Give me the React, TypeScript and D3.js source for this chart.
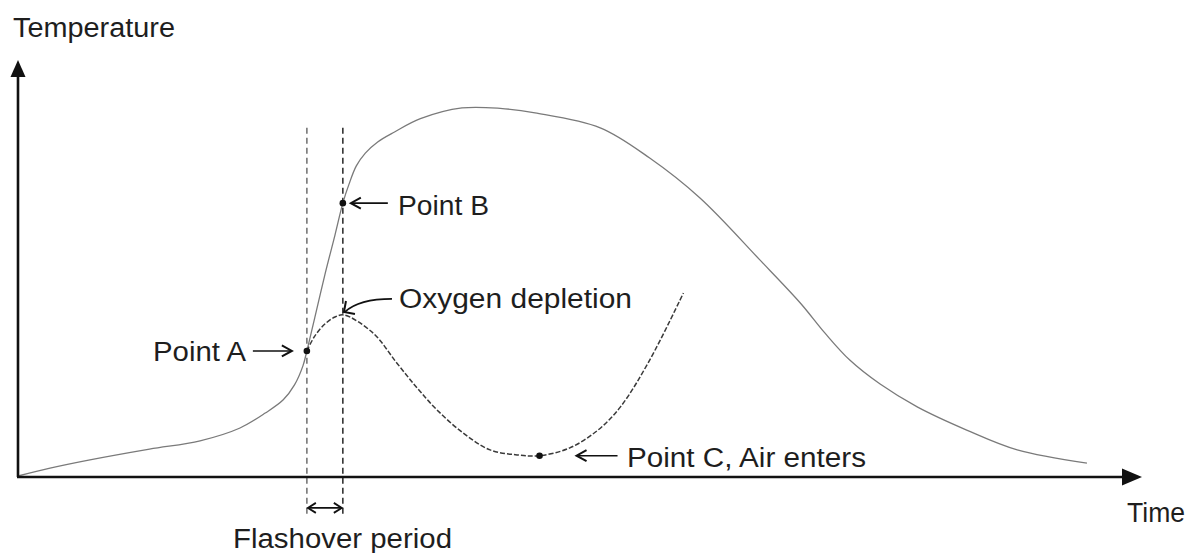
import React from "react";
import * as d3 from "d3";

// Time (0-100, arbitrary units) and temperature (0-100, arbitrary units)
const mainTime = [0, 2.85, 6.4, 11.7, 16.2, 19.75, 22.0, 23.6, 24.6, 25.35, 25.7, 26.4, 27.3, 28.2, 28.9, 29.45, 30.1, 30.9, 32.0, 33.5, 35.8, 39.5, 42.9, 46.0, 51.8, 56.2, 60.7, 66.0, 69.6, 71.8, 74.0, 76.7, 80.0, 84.4, 88.9, 95.1];
const mainTemp = [0, 1.9, 3.9, 6.5, 8.5, 11.6, 15.2, 18.4, 22.0, 26.6, 30.2, 38.2, 48.6, 58.2, 65.9, 70.5, 74.9, 78.0, 80.7, 83.1, 86.3, 88.9, 88.8, 87.7, 84.1, 76.8, 67.1, 52.2, 41.8, 34.5, 28.0, 22.2, 16.7, 11.1, 6.3, 3.1];

const oxyTime = [25.7, 26.4, 27.3, 28.2, 29.0, 31.6, 33.7, 35.5, 37.3, 39.6, 42.0, 44.4, 46.4, 49.1, 51.6, 53.6, 56.2, 59.2];
const oxyTemp = [30.2, 33.8, 36.7, 38.4, 38.9, 34.5, 27.3, 21.3, 15.9, 10.4, 6.3, 5.1, 4.9, 6.8, 11.1, 16.7, 28.0, 44.2];

const pointNames = ["Point A", "Point B", "Point C"];
const pointTime = [25.7, 28.9, 46.4];
const pointTemp = [30.2, 65.9, 4.9];

const flashoverStart = 25.7;
const flashoverEnd = 28.9;
const guideTop = 84.1;
const guideBottom = -9.4;
const flashoverArrowLevel = -7.7;
const oxygenPeakTime = 29.0;
const oxygenPeakTemp = 38.9;

const W = 1199;
const H = 553;

const x = d3.scaleLinear().domain([0, 100]).range([18, 1142]);
const y = d3.scaleLinear().domain([0, 100]).range([476, 62]);

const FONT = "'Liberation Sans', Arial, Helvetica, sans-serif";
const TXT = "#1e1e1e";

function Chevron({ tipX, tipY, dir }: { tipX: number; tipY: number; dir: "left" | "right" }) {
  const s = dir === "left" ? 1 : -1;
  return (
    <path
      d={`M${tipX + s * 10},${tipY - 5.5} L${tipX},${tipY} L${tipX + s * 10},${tipY + 5.5}`}
      fill="none"
      stroke="#111"
      strokeWidth={2}
      strokeLinejoin="miter"
    />
  );
}

export default function App() {
  const mainData = mainTime.map((t, i) => [t, mainTemp[i]] as [number, number]);
  const oxyData = oxyTime.map((t, i) => [t, oxyTemp[i]] as [number, number]);
  const line = d3
    .line<[number, number]>()
    .x((d) => x(d[0]))
    .y((d) => y(d[1]))
    .curve(d3.curveCatmullRom.alpha(0.5));

  const x0 = x(0);
  const y0 = y(0);
  const yTop = y(100);
  const xEnd = x(100);

  const A = { x: x(pointTime[0]), y: y(pointTemp[0]) };
  const B = { x: x(pointTime[1]), y: y(pointTemp[1]) };
  const C = { x: x(pointTime[2]), y: y(pointTemp[2]) };
  const peak = { x: x(oxygenPeakTime), y: y(oxygenPeakTemp) };
  const fx1 = x(flashoverStart);
  const fx2 = x(flashoverEnd);
  const fy = y(flashoverArrowLevel);

  return (
    <svg
      width={W}
      height={H}
      viewBox={`0 0 ${W} ${H}`}
      style={{ position: "absolute", left: 0, top: 0, background: "#fff" }}
    >
      {/* guides */}
      <line x1={fx1} x2={fx1} y1={y(guideTop)} y2={y(guideBottom)} stroke="#777" strokeWidth={1.6} strokeDasharray="6,4" />
      <line x1={fx2} x2={fx2} y1={y(guideTop)} y2={y(guideBottom)} stroke="#333" strokeWidth={1.6} strokeDasharray="6,4" />

      {/* curves */}
      <path d={line(mainData) || ""} fill="none" stroke="#7a7a7a" strokeWidth={1.3} />
      <path d={line(oxyData) || ""} fill="none" stroke="#3a3a3a" strokeWidth={1.5} strokeDasharray="5,2" />

      {/* axes */}
      <line x1={x0} x2={x0} y1={y0 + 1} y2={yTop + 14} stroke="#111" strokeWidth={2.6} />
      <path d={`M${x0},${yTop - 2} L${x0 - 7.5},${yTop + 15} L${x0 + 7.5},${yTop + 15} Z`} fill="#111" />
      <line x1={x0 - 1} x2={xEnd - 16} y1={y0 + 1} y2={y0 + 1} stroke="#111" strokeWidth={2.6} />
      <path d={`M${xEnd},${y0 + 1} L${xEnd - 20},${y0 - 7.5} L${xEnd - 20},${y0 + 9.5} Z`} fill="#111" />

      {/* points */}
      {[A, B, C].map((p, i) => (
        <circle key={pointNames[i]} cx={p.x} cy={p.y} r={3.3} fill="#111" />
      ))}

      {/* annotation arrows */}
      <line x1={A.x - 54} x2={A.x - 16} y1={A.y} y2={A.y} stroke="#111" strokeWidth={1.6} />
      <Chevron tipX={A.x - 15} tipY={A.y} dir="right" />

      <line x1={B.x + 9} x2={B.x + 45} y1={B.y} y2={B.y} stroke="#111" strokeWidth={1.6} />
      <Chevron tipX={B.x + 8} tipY={B.y} dir="left" />

      <line x1={C.x + 38} x2={C.x + 78} y1={C.y} y2={C.y} stroke="#111" strokeWidth={1.6} />
      <Chevron tipX={C.x + 37} tipY={C.y} dir="left" />

      <path
        d={`M${peak.x + 48},${peak.y - 16} Q${peak.x + 15},${peak.y - 16} ${peak.x + 1},${peak.y - 3}`}
        fill="none"
        stroke="#111"
        strokeWidth={1.8}
      />
      <path
        d={`M${peak.x + 2},${peak.y - 14} L${peak.x},${peak.y - 3} L${peak.x + 11},${peak.y - 1}`}
        fill="none"
        stroke="#111"
        strokeWidth={2}
      />

      <line x1={fx1 + 1} x2={fx2 - 1} y1={fy} y2={fy} stroke="#111" strokeWidth={1.6} />
      <path d={`M${fx1 + 9},${fy - 5} L${fx1 + 1},${fy} L${fx1 + 9},${fy + 5}`} fill="none" stroke="#111" strokeWidth={1.8} />
      <path d={`M${fx2 - 9},${fy - 5} L${fx2 - 1},${fy} L${fx2 - 9},${fy + 5}`} fill="none" stroke="#111" strokeWidth={1.8} />

      {/* text */}
      <g fontFamily={FONT} fontSize={27} fill={TXT}>
        <text x={13} y={37} textLength={162} lengthAdjust="spacingAndGlyphs">Temperature</text>
        <text x={1127} y={522} textLength={58} lengthAdjust="spacingAndGlyphs">Time</text>
        <text x={398} y={215} textLength={91} lengthAdjust="spacingAndGlyphs">Point B</text>
        <text x={399} y={308} textLength={233} lengthAdjust="spacingAndGlyphs">Oxygen depletion</text>
        <text x={153} y={361} textLength={93} lengthAdjust="spacingAndGlyphs">Point A</text>
        <text x={627} y={467} textLength={239} lengthAdjust="spacingAndGlyphs">Point C, Air enters</text>
        <text x={233} y={548} textLength={219} lengthAdjust="spacingAndGlyphs">Flashover period</text>
      </g>
    </svg>
  );
}
